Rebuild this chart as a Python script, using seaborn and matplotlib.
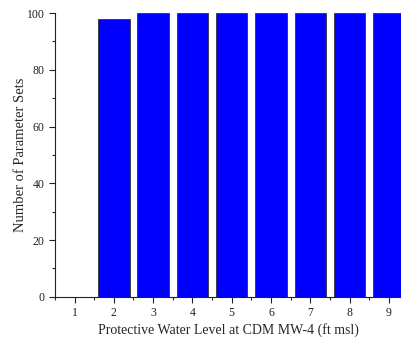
import matplotlib
matplotlib.use("Agg")
import matplotlib.pyplot as plt
import seaborn as sns
import pandas as pd
from matplotlib.ticker import MultipleLocator

# Veri
water_levels = [1, 2, 3, 4, 5, 6, 7, 8, 9]
param_sets = [0, 98, 100, 100, 100, 100, 100, 100, 100]

df = pd.DataFrame({"level": water_levels, "count": param_sets})

sns.set_style("ticks")
plt.rcParams["font.family"] = ["Liberation Serif", "DejaVu Serif"]

fig = plt.figure(figsize=(4.01, 3.44), dpi=100)
ax = fig.add_axes([0.137, 0.137, 0.863, 0.825])

sns.barplot(data=df, x="level", y="count", native_scale=True, width=0.8,
            color="#0000ff", saturation=1, edgecolor="#333333", linewidth=0.6, ax=ax)

ax.set_xlim(0.5, 9.31)
ax.set_ylim(0, 100)
ax.xaxis.set_major_locator(MultipleLocator(1))
ax.xaxis.set_minor_locator(MultipleLocator(0.5))
ax.yaxis.set_major_locator(MultipleLocator(20))
ax.yaxis.set_minor_locator(MultipleLocator(10))
ax.tick_params(which="major", length=4, width=0.8, labelsize=8.5, colors="#222222")
ax.tick_params(which="minor", length=2.5, width=0.8)

sns.despine(ax=ax, top=True, right=True)
for s in ["left", "bottom"]:
    ax.spines[s].set_linewidth(0.8)
    ax.spines[s].set_color("#222222")

ax.set_xlabel("Protective Water Level at CDM MW-4 (ft msl)", fontsize=10, labelpad=3)
ax.set_ylabel("Number of Parameter Sets", fontsize=10.5, labelpad=0)

fig.savefig("out.png", dpi=100)
